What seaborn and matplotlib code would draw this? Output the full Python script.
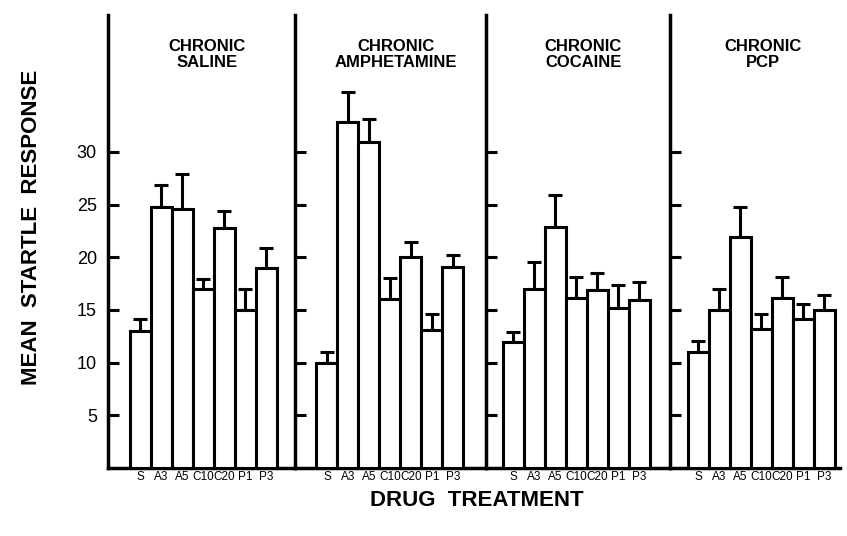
import matplotlib
matplotlib.use("Agg")
import matplotlib.pyplot as plt
import seaborn as sns
import pandas as pd
import numpy as np

treatments = ["S", "A3", "A5", "C10", "C20", "P1", "P3"]
panel_titles = ["CHRONIC\nSALINE", "CHRONIC\nAMPHETAMINE", "CHRONIC\nCOCAINE", "CHRONIC\nPCP"]

saline_mean = [13.0, 24.8, 24.6, 17.0, 22.8, 15.0, 19.0]
saline_sem = [1.1, 2.1, 3.3, 0.9, 1.6, 2.0, 1.9]
amph_mean = [10.0, 32.8, 30.9, 16.0, 20.0, 13.1, 19.1]
amph_sem = [1.0, 2.9, 2.2, 2.0, 1.5, 1.5, 1.1]
coc_mean = [12.0, 17.0, 22.9, 16.1, 16.9, 15.2, 15.9]
coc_sem = [0.9, 2.6, 3.0, 2.0, 1.6, 2.2, 1.8]
pcp_mean = [11.0, 15.0, 21.9, 13.2, 16.1, 14.1, 15.0]
pcp_sem = [1.1, 2.0, 2.9, 1.4, 2.0, 1.5, 1.4]

y_ticks = [5, 10, 15, 20, 25, 30]

means = [saline_mean, amph_mean, coc_mean, pcp_mean]
sems = [saline_sem, amph_sem, coc_sem, pcp_sem]

sns.set_style("white")
plt.rcParams["font.family"] = ["Liberation Sans", "DejaVu Sans"]
plt.rcParams["text.color"] = "black"
plt.rcParams["xtick.color"] = "black"
plt.rcParams["ytick.color"] = "black"
plt.rcParams["axes.labelcolor"] = "black"

xlims = [(-1.53, 7.37), (-1.52, 7.57), (-1.3, 7.45), (-1.35, 6.75)]
ratios = [b - a for a, b in xlims]

fig = plt.figure(figsize=(8.47, 5.36), dpi=100)
gs = fig.add_gridspec(1, 4, width_ratios=ratios, left=108 / 847, right=840 / 847,
                      bottom=1 - 468 / 536, top=1 - 15 / 536, wspace=0)

for i in range(4):
    ax = fig.add_subplot(gs[0, i])
    df = pd.DataFrame({"treatment": treatments, "value": means[i]})
    sns.barplot(data=df, x="treatment", y="value", order=treatments, color="white",
                edgecolor="black", linewidth=2.2, width=1.0, saturation=1, ax=ax, zorder=3)
    ax.errorbar(np.arange(len(treatments)), means[i],
                yerr=[np.zeros(len(treatments)), sems[i]], fmt="none",
                ecolor="black", elinewidth=2.2, capsize=5, capthick=2.2, zorder=2)
    ax.set_xlim(*xlims[i])
    ax.set_ylim(0, 43)
    ax.set_yticks(y_ticks)
    ax.set_xlabel("")
    ax.set_ylabel("")
    for s in ["top", "right"]:
        ax.spines[s].set_visible(False)
    ax.spines["left"].set_linewidth(2.5)
    ax.spines["bottom"].set_linewidth(2.5)
    ax.spines["left"].set_color("black")
    ax.spines["bottom"].set_color("black")
    ax.tick_params(axis="y", direction="in", length=8, width=2.2, pad=8,
                   labelsize=13, left=True, labelleft=(i == 0))
    ax.tick_params(axis="x", length=0, pad=2, labelsize=8.5)
    ax.text(0.53 if i < 3 else 0.55, 0.912, panel_titles[i], transform=ax.transAxes,
            ha="center", va="center", fontsize=12, fontweight="bold", linespacing=1.1)

fig.text(0.037, 0.575, "MEAN  STARTLE  RESPONSE", rotation=90, ha="center", va="center",
         fontsize=16, fontweight="bold")
fig.text(0.563, 0.067, "DRUG  TREATMENT", ha="center", va="center",
         fontsize=16, fontweight="bold")

fig.savefig("out.png", dpi=100)
